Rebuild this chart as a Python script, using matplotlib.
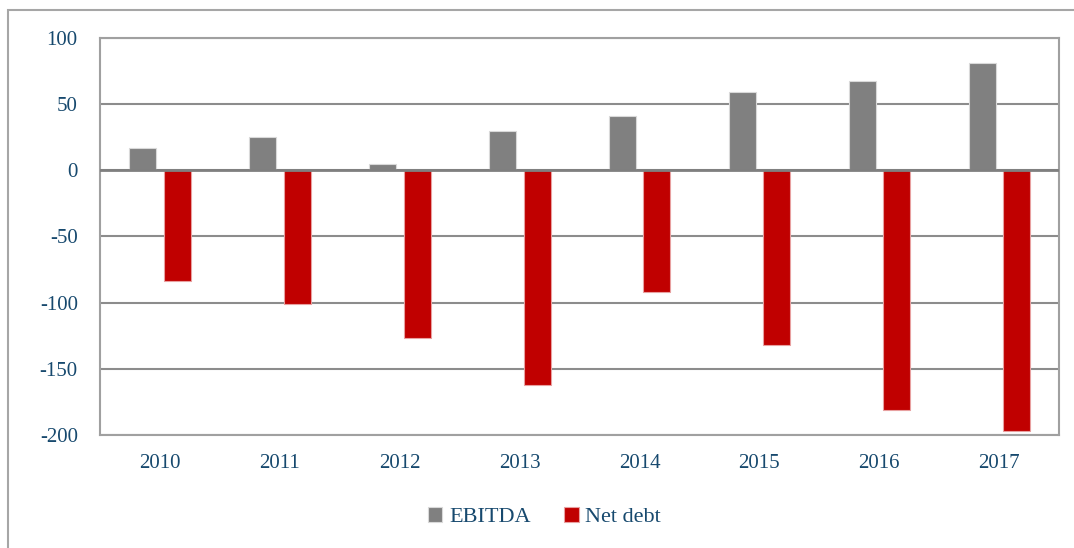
import matplotlib.pyplot as plt
import numpy as np
from matplotlib.patches import Rectangle

years = ["2010", "2011", "2012", "2013", "2014", "2015", "2016", "2017"]
ebitda = [16.5, 25, 4.5, 30, 41, 59, 67.5, 81]
net_debt = [-84, -101, -127, -162, -92, -132, -181, -197]

text_col = "#17496E"
grid_col = "#8C8C8C"

plt.rcParams["font.family"] = ["Liberation Serif", "DejaVu Serif"]
plt.rcParams["axes.unicode_minus"] = False

fig = plt.figure(figsize=(10.74, 5.48), dpi=100)
ax = fig.add_axes([0.0931, 0.2062, 0.8930, 0.7245])

# outer chart frame (partially outside the canvas)
fig.patches.append(Rectangle((8 / 1074, -0.1), 1.2, 1.1 - 10 / 548, transform=fig.transFigure,
                             fill=False, edgecolor="#A6A6A6", lw=1.5, zorder=0))

x = np.arange(len(years))
w = 0.225
ax.bar(x - 0.142, ebitda, w, color="#808080", edgecolor="#D9D9D9", lw=0.8, zorder=3, label="EBITDA")
ax.bar(x + 0.146, net_debt, w, color="#C00000", edgecolor="#E8A0A0", lw=0.8, zorder=3, label="Net debt")

ax.set_xlim(-0.5, len(years) - 0.5)
ax.set_ylim(-200, 100)
ax.set_yticks(range(-200, 101, 50))
ax.set_xticks(x)
ax.set_xticklabels(years)
ax.grid(axis="y", color=grid_col, lw=1.5, zorder=0)
ax.axhline(0, color="#7F7F7F", lw=2, zorder=4)
for s in ax.spines.values():
    s.set_color("#A0A0A0")
    s.set_linewidth(1.5)
ax.tick_params(axis="both", length=0, colors=text_col, labelsize=15)
ax.tick_params(axis="y", pad=16)
ax.tick_params(axis="x", pad=14)

leg = fig.legend(loc="center", bbox_to_anchor=(0.507, 0.056), ncol=2, frameon=False,
                 fontsize=16, handlelength=0.65, handleheight=0.65, handletextpad=0.3,
                 columnspacing=1.5)
for t in leg.get_texts():
    t.set_color(text_col)

fig.savefig("out.png", dpi=100)
